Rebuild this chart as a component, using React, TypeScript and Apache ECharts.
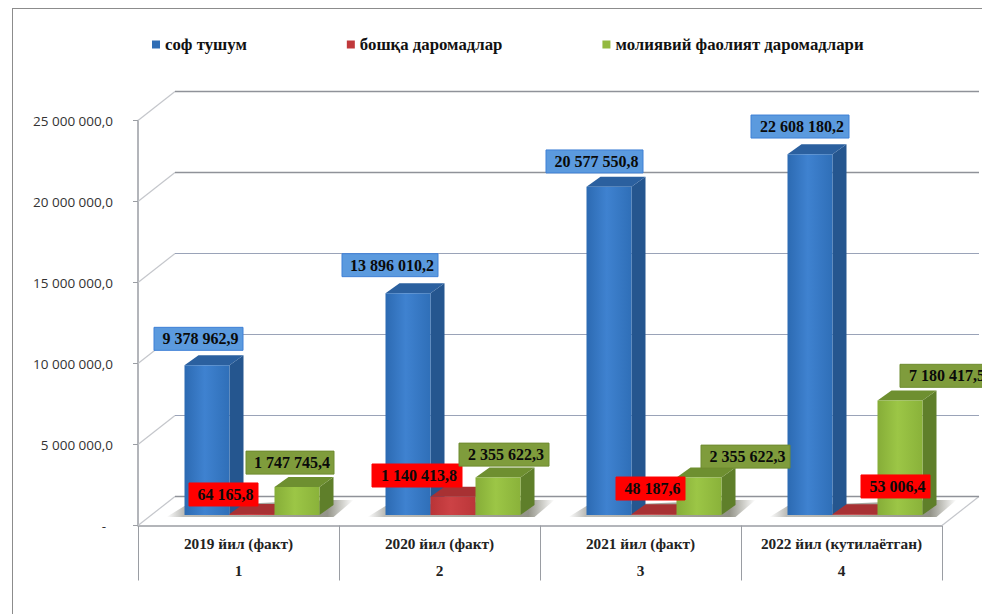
import React, { useEffect, useRef } from "react";
import * as echarts from "echarts";

const categories = ["2019 йил (факт)", "2020 йил (факт)", "2021 йил (факт)", "2022 йил (кутилаётган)"];
const rowNumbers = ["1", "2", "3", "4"];
const netRevenue = [9378962.9, 13896010.2, 20577550.8, 22608180.2];
const otherIncome = [64165.8, 1140413.8, 48187.6, 53006.4];
const financeIncome = [1747745.4, 2355622.3, 2355622.3, 7180417.5];
const seriesNames = ["соф тушум", "бошқа даромадлар", "молиявий фаолият даромадлари"];
const gridTicks = [5000000, 10000000, 15000000, 20000000, 25000000];

const SERIF = "'Liberation Serif', serif";
const DEPTH_X = 37, DEPTH_Y = 29; // wall depth
const BAR_W = 45, BAR_DX = 14, BAR_DY = 10, BASE_DX = 13.5, BASE_DY = 10.5, BAR_SCALE = 0.985;

const palettes = [
  { legend: "#2f6db5", front: ["#2c6ab2", "#3f82d0", "#2f6fb8"], side: "#25568f", top: "#2b609f" },
  { legend: "#c0393b", front: ["#b93437", "#cc4245", "#bb3639"], side: "#8a2a2c", top: "#a83133" },
  { legend: "#93b93f", front: ["#86ad38", "#9cc646", "#8ab23a"], side: "#5f7f2a", top: "#6e8f30" },
];
const labelFills = [
  { bg: "#5b9ade", border: "#3f80d6" },
  { bg: "#ff0000", border: "#ff0000" },
  { bg: "#7f9c3c", border: "#6f8c30" },
];
// label box top-left relative to the bar's front-top-left corner, per series then category
const labelOffsets = [
  [[-30.5, -38], [-43.5, -39.6], [-40.5, -36.7], [-36.5, -39.2]],
  [[-40.5, -31], [-58.5, -32.8], [-15.5, -37.2], [28.5, -39.2]],
  [[-28.5, -36], [-16.5, -34.3], [24.5, -32.3], [22.5, -36.1]],
];
const labelWidths = [[89, 96, 97, 98], [69, 90, 69, 69], [88, 90, 89, 90]];

function fmt(v: number) {
  const [i, d] = v.toFixed(1).split(".");
  return i.replace(/\B(?=(\d{3})+(?!\d))/g, " ") + "," + d;
}

function barItem(si: number) {
  return (params: any, api: any) => {
    const cat = api.value(0);
    const val = api.value(1);
    const c = api.coord([cat, 0]);
    const t = api.coord([cat, val]);
    const x = c[0] + BASE_DX + (si - 1.5) * BAR_W;
    const y0 = c[1] - BASE_DY;
    const y1 = y0 - (c[1] - t[1]) * BAR_SCALE;
    const x1 = x + BAR_W;
    const p = palettes[si];
    const kids: any[] = [
      {
        type: "polygon",
        shape: { points: [[x1, y1], [x1 + BAR_DX, y1 - BAR_DY], [x1 + BAR_DX, y0 - BAR_DY], [x1, y0]] },
        style: { fill: p.side },
      },
      {
        type: "polygon",
        shape: { points: [[x, y1], [x + BAR_DX, y1 - BAR_DY], [x1 + BAR_DX, y1 - BAR_DY], [x1, y1]] },
        style: { fill: p.top },
      },
      {
        type: "rect",
        shape: { x, y: y1, width: BAR_W, height: y0 - y1 },
        style: {
          fill: new echarts.graphic.LinearGradient(0, 0, 1, 0, [
            { offset: 0, color: p.front[0] },
            { offset: 0.45, color: p.front[1] },
            { offset: 1, color: p.front[2] },
          ]),
        },
      },
    ];
    return { type: "group", children: kids };
  };
}

function shadowItem(params: any, api: any) {
  const c = api.coord([api.value(0), 0]);
  const xl = c[0] + BASE_DX - 1.5 * BAR_W;
  const xr = xl + 3 * BAR_W + BAR_DX;
  const y0 = c[1] - BASE_DY;
  return {
    type: "polygon",
    shape: {
      points: [[xl - 18, y0 + 2], [xl, y0 - 9], [xr, y0 - 15], [xr + 20, y0 - 15], [xr, y0 + 2]],
    },
    style: {
      fill: new echarts.graphic.LinearGradient(0, 0, 1, 0, [
        { offset: 0, color: "rgba(90,90,80,0)" },
        { offset: 0.09, color: "rgba(90,90,80,0.4)" },
        { offset: 0.86, color: "rgba(60,60,40,0.55)" },
        { offset: 1, color: "rgba(60,60,40,0)" },
      ]),
    },
  };
}

function wallItem(params: any, api: any) {
  const v = api.value(0);
  const left = api.coord([0, v])[0] - api.size([1, 0])[0] / 2;
  const right = left + api.size([1, 0])[0] * 4;
  const y = api.coord([0, v])[1];
  const minor = v === 5000000 || v === 10000000 || v === 15000000;
  const stroke = minor ? "#9aa3b8" : "#8f9299";
  return {
    type: "group",
    children: [
      {
        type: "line",
        shape: { x1: left, y1: y, x2: left + DEPTH_X, y2: y - DEPTH_Y },
        style: { stroke: "#c4c6cb", lineWidth: 1.2 },
      },
      {
        type: "line",
        shape: { x1: left + DEPTH_X, y1: y - DEPTH_Y, x2: right + DEPTH_X, y2: y - DEPTH_Y },
        style: { stroke, lineWidth: minor ? 1 : 1.5 },
      },
    ],
  };
}

function floorItem(params: any, api: any) {
  const bw = api.size([1, 0])[0];
  const c = api.coord([0, 0]);
  const left = c[0] - bw / 2;
  const right = left + bw * 4;
  const y = c[1];
  return {
    type: "group",
    children: [
      { type: "line", shape: { x1: left, y1: y, x2: left + DEPTH_X, y2: y - DEPTH_Y }, style: { stroke: "#c4c6cb", lineWidth: 1.2 } },
      { type: "line", shape: { x1: right, y1: y, x2: right + DEPTH_X, y2: y - DEPTH_Y }, style: { stroke: "#c4c6cb", lineWidth: 1.2 } },
      { type: "line", shape: { x1: left + DEPTH_X, y1: y - DEPTH_Y, x2: right + DEPTH_X, y2: y - DEPTH_Y }, style: { stroke: "#8f9299", lineWidth: 1.5 } },
    ],
  };
}

function labelItem(params: any, api: any) {
  const cat = api.value(0);
  const val = api.value(1);
  const si = api.value(2);
  const c = api.coord([cat, 0]);
  const t = api.coord([cat, val]);
  const x = c[0] + BASE_DX + (si - 1.5) * BAR_W;
  const y1 = c[1] - BASE_DY - (c[1] - t[1]) * BAR_SCALE;
  const [ox, oy] = labelOffsets[si][cat];
  const w = labelWidths[si][cat];
  const lx = x + ox;
  const ly = y1 + oy;
  const f = labelFills[si];
  return {
    type: "group",
    children: [
      { type: "rect", shape: { x: lx, y: ly, width: w, height: 23 }, style: { fill: f.bg, stroke: f.border, lineWidth: 1 } },
      {
        type: "text",
        x: lx + w / 2 + 2,
        y: ly + 11.5,
        style: {
          text: fmt(val),
          font: `bold 16px ${SERIF}`,
          fill: "#0a0a0a",
          align: "center",
          verticalAlign: "middle",
        },
      },
    ],
  };
}

export default function App() {
  const ref = useRef<HTMLDivElement>(null);
  useEffect(() => {
    const chart = echarts.init(ref.current!, undefined, { renderer: "svg" });
    const values = [netRevenue, otherIncome, financeIncome];
    const barSeries = values.map((arr, si) => ({
      type: "custom",
      name: seriesNames[si],
      renderItem: barItem(si),
      itemStyle: { color: palettes[si].legend },
      data: arr.map((v, i) => [i, v]),
      encode: { x: 0, y: 1 },
      z: 4,
      silent: true,
    }));
    const labelData: number[][] = [];
    values.forEach((arr, si) => arr.forEach((v, i) => labelData.push([i, v, si])));
    chart.setOption({
      animation: false,
      backgroundColor: "#ffffff",
      legend: {
        data: seriesNames,
        left: 147,
        top: 31,
        icon: "rect",
        itemWidth: 8,
        itemHeight: 8,
        itemGap: 100,
        selectedMode: false,
        textStyle: { fontFamily: SERIF, fontWeight: "bold", fontSize: 16.8, color: "#111" },
      },
      grid: { left: 138, right: 40, top: 120.5, bottom: 88.5, containLabel: false },
      xAxis: {
        type: "category",
        data: categories.map((c, i) => `${c}\n${rowNumbers[i]}`),
        axisLine: { lineStyle: { color: "#9a9da3", width: 1.5 } },
        axisTick: { show: true, length: 55, alignWithLabel: false, lineStyle: { color: "#9a9da3", width: 1 } },
        axisLabel: {
          interval: 0,
          margin: 4,
          fontFamily: SERIF,
          fontWeight: "bold",
          fontSize: 15.3,
          lineHeight: 27,
          color: "#222",
        },
      },
      yAxis: {
        type: "value",
        min: 0,
        max: 25000000,
        interval: 5000000,
        axisLine: { show: true, lineStyle: { color: "#9a9da3", width: 1.5 } },
        axisTick: { show: true, length: 5, lineStyle: { color: "#9a9da3" } },
        splitLine: { show: false },
        axisLabel: {
          margin: 25,
          fontFamily: "'Open Sans', sans-serif",
          fontWeight: 500,
          fontSize: 13.5,
          color: "#333",
          formatter: (v: number) => (v === 0 ? "-\u00a0\u00a0" : fmt(v)),
        },
      },
      graphic: [
        { type: "line", shape: { x1: 12, y1: 8.5, x2: 982, y2: 8.5 }, style: { stroke: "#8c8c8c", lineWidth: 1 }, silent: true },
        { type: "line", shape: { x1: 12.5, y1: 8.5, x2: 12.5, y2: 614 }, style: { stroke: "#8c8c8c", lineWidth: 1 }, silent: true },
      ],
      series: [
        {
          type: "custom",
          renderItem: wallItem,
          data: gridTicks.map((v) => [v]),
          encode: { y: 0 },
          z: 1,
          silent: true,
        },
        {
          type: "custom",
          renderItem: floorItem,
          data: [[0]],
          z: 1,
          silent: true,
        },
        {
          type: "custom",
          renderItem: shadowItem,
          data: categories.map((_, i) => [i, 0]),
          encode: { x: 0, y: 1 },
          z: 2,
          silent: true,
        },
        ...barSeries,
        {
          type: "custom",
          renderItem: labelItem,
          data: labelData,
          encode: { x: 0, y: 1 },
          z: 6,
          silent: true,
        },
      ],
    });
    return () => chart.dispose();
  }, []);
  return <div ref={ref} style={{ position: "fixed", left: 0, top: 0, width: 982, height: 614 }} />;
}
